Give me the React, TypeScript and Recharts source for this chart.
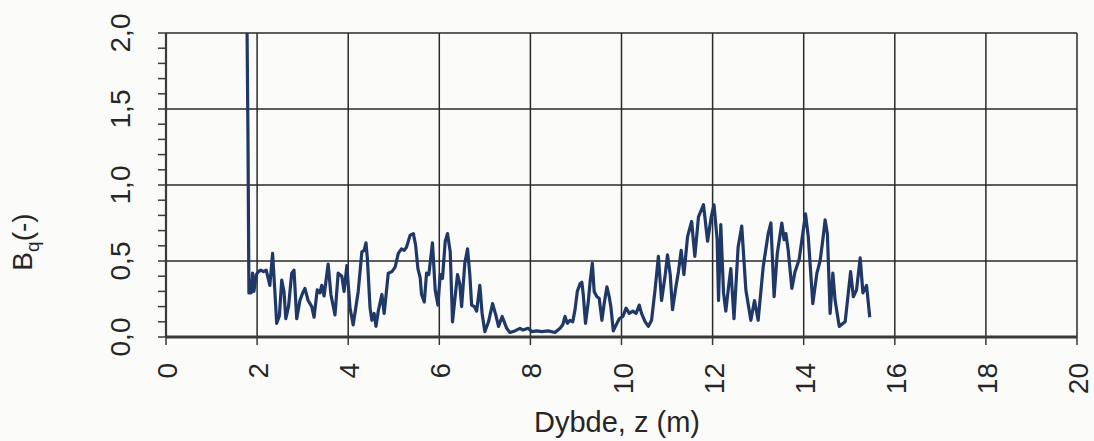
import { LineChart, Line, XAxis, YAxis, CartesianGrid, Label } from 'recharts';

// depth z (m) and Bq (-)
const depth = [
  1.78, 1.8, 1.82, 1.87, 1.9, 1.93, 1.98, 2.03, 2.08, 2.14, 2.2, 2.28, 2.34, 2.39, 2.43, 2.49,
  2.54, 2.59, 2.63, 2.69, 2.76, 2.81, 2.87, 2.94, 3.0, 3.05, 3.12, 3.2, 3.25, 3.32, 3.38, 3.42,
  3.47, 3.56, 3.62, 3.71, 3.78, 3.86, 3.91, 3.97, 4.04, 4.11, 4.22, 4.3, 4.35, 4.39, 4.42, 4.48,
  4.52, 4.57, 4.61, 4.66, 4.74, 4.79, 4.88, 4.96, 5.03, 5.1, 5.17, 5.23, 5.28, 5.36, 5.43, 5.48,
  5.53, 5.58, 5.61, 5.67, 5.72, 5.77, 5.85, 5.91, 5.97, 6.02, 6.07, 6.13, 6.18, 6.24, 6.29, 6.36,
  6.4, 6.45, 6.49, 6.56, 6.62, 6.67, 6.71, 6.77, 6.82, 6.89, 6.94, 7.0, 7.08, 7.17, 7.24, 7.3,
  7.38, 7.48, 7.55, 7.66, 7.77, 7.84, 7.95, 8.04, 8.14, 8.25, 8.39, 8.54, 8.65, 8.71, 8.76, 8.81,
  8.87, 8.93, 8.98, 9.03, 9.09, 9.13, 9.16, 9.21, 9.27, 9.31, 9.36, 9.4, 9.46, 9.51, 9.57, 9.62,
  9.68, 9.73, 9.77, 9.82, 9.9, 9.95, 10.03, 10.1, 10.17, 10.25, 10.32, 10.39, 10.44, 10.52, 10.59, 10.66,
  10.74, 10.81, 10.88, 10.96, 11.01, 11.07, 11.12, 11.2, 11.25, 11.31, 11.37, 11.45, 11.54, 11.61, 11.69, 11.8,
  11.89, 11.97, 12.03, 12.1, 12.13, 12.18, 12.24, 12.29, 12.35, 12.4, 12.47, 12.56, 12.64, 12.73, 12.84, 12.92,
  13.0, 13.11, 13.22, 13.28, 13.35, 13.42, 13.52, 13.57, 13.61, 13.66, 13.74, 13.81, 13.9, 14.04, 14.1, 14.2,
  14.29, 14.36, 14.42, 14.47, 14.52, 14.58, 14.64, 14.69, 14.78, 14.91, 15.03, 15.09, 15.16, 15.24, 15.3, 15.38,
  15.45,
];
const bq = [
  2.0, 1.3, 0.29, 0.29, 0.42, 0.3, 0.41, 0.43, 0.44, 0.43, 0.44, 0.34, 0.55, 0.3, 0.09, 0.14,
  0.375, 0.3, 0.12, 0.2, 0.42, 0.44, 0.12, 0.24, 0.29, 0.32, 0.24, 0.2, 0.13, 0.31, 0.29, 0.34,
  0.27, 0.48, 0.28, 0.145, 0.42, 0.4, 0.3, 0.47, 0.19, 0.08, 0.3, 0.56, 0.57, 0.62, 0.52, 0.19,
  0.11, 0.155, 0.07, 0.17, 0.28, 0.155, 0.42, 0.43, 0.46, 0.55, 0.58, 0.57, 0.59, 0.67, 0.68, 0.605,
  0.45, 0.39, 0.28, 0.23, 0.42, 0.41, 0.62, 0.31, 0.21, 0.41, 0.385, 0.63, 0.68, 0.56, 0.1, 0.3,
  0.41, 0.35, 0.2, 0.485, 0.58, 0.41, 0.21, 0.2, 0.17, 0.34, 0.155, 0.035, 0.1, 0.22, 0.145, 0.07,
  0.135, 0.057, 0.03, 0.04, 0.057, 0.046, 0.057, 0.035, 0.04, 0.035, 0.04, 0.03, 0.057, 0.08, 0.135, 0.09,
  0.11, 0.1, 0.18, 0.3, 0.35, 0.36, 0.28, 0.09, 0.23, 0.36, 0.485, 0.3, 0.265, 0.255, 0.11, 0.22,
  0.33, 0.265, 0.19, 0.04, 0.09, 0.12, 0.135, 0.19, 0.155, 0.17, 0.155, 0.21, 0.155, 0.1, 0.07, 0.11,
  0.32, 0.53, 0.24, 0.41, 0.54, 0.41, 0.18, 0.34, 0.43, 0.57, 0.41, 0.66, 0.76, 0.53, 0.79, 0.87,
  0.63, 0.79, 0.87, 0.64, 0.24, 0.74, 0.29, 0.17, 0.33, 0.45, 0.12, 0.59, 0.73, 0.31, 0.11, 0.24,
  0.11, 0.46, 0.68, 0.75, 0.265, 0.55, 0.75, 0.64, 0.68, 0.57, 0.32, 0.43, 0.51, 0.81, 0.66, 0.22,
  0.42, 0.5, 0.64, 0.77, 0.68, 0.155, 0.42, 0.24, 0.07, 0.1, 0.43, 0.265, 0.31, 0.52, 0.29, 0.34,
  0.13,
];

const xTicks = [0, 2, 4, 6, 8, 10, 12, 14, 16, 18, 20];
const yTicks = [
  0, 0.1, 0.2, 0.3, 0.4, 0.5, 0.6, 0.7, 0.8, 0.9, 1.0,
  1.1, 1.2, 1.3, 1.4, 1.5, 1.6, 1.7, 1.8, 1.9, 2.0,
];
const yMajor = [0, 0.5, 1.0, 1.5, 2.0];

const data = depth.map((z, i) => ({ z, bq: bq[i] }));

const FONT = '"Liberation Sans", Arial, Helvetica, sans-serif';
const TEXT = '#262626';

function YTick({ x, y, payload }: any) {
  const v = payload.value as number;
  if (!yMajor.some((m) => Math.abs(m - v) < 1e-6)) return <g />;
  return (
    <text
      transform={`translate(${x - 28},${y}) rotate(-90)`}
      textAnchor="middle"
      fontSize={28}
      fontFamily={FONT}
      fill={TEXT}
    >
      {v.toFixed(1).replace('.', ',')}
    </text>
  );
}

function XTick({ x, y, payload }: any) {
  return (
    <text
      transform={`translate(${x + 11},${y + 18}) rotate(-90)`}
      textAnchor="end"
      fontSize={28}
      fontFamily={FONT}
      fill={TEXT}
    >
      {payload.value}
    </text>
  );
}

export default function App() {
  return (
    <div style={{ position: 'absolute', left: 0, top: 0, width: 1094, height: 441, background: '#fbfbfa' }}>
      <LineChart
        width={1094}
        height={441}
        data={data}
        margin={{ top: 33, right: 17, bottom: 0, left: 0 }}
      >
        <CartesianGrid
          stroke="#2a2a2a"
          strokeWidth={1.5}
          horizontalValues={yMajor}
          verticalValues={xTicks}
        />
        <XAxis
          dataKey="z"
          type="number"
          domain={[0, 20]}
          ticks={xTicks}
          height={104}
          tickSize={8}
          tickMargin={0}
          tick={<XTick />}
          interval={0}
          axisLine={{ stroke: '#3a3a3a', strokeWidth: 3 }}
          tickLine={{ stroke: '#3a3a3a', strokeWidth: 1.5 }}
        >
          <Label
            content={() => (
              <text x={617} y={432} textAnchor="middle" fontSize={29} fontFamily={FONT} fill={TEXT}>
                Dybde, z (m)
              </text>
            )}
          />
        </XAxis>
        <YAxis
          type="number"
          domain={[0, 2]}
          ticks={yTicks}
          width={166}
          tickSize={8}
          tickMargin={0}
          tick={<YTick />}
          interval={0}
          axisLine={{ stroke: '#3a3a3a', strokeWidth: 2.2 }}
          tickLine={{ stroke: '#3a3a3a', strokeWidth: 1.5 }}
        >
          <Label
            content={() => (
              <text
                transform="translate(32,242) rotate(-90)"
                textAnchor="middle"
                fontSize={28}
                fontFamily={FONT}
                fill={TEXT}
              >
                B
                <tspan fontSize={19} dy={7}>q</tspan>
                <tspan dy={-7}>(-)</tspan>
              </text>
            )}
          />
        </YAxis>
        <Line
          type="linear"
          dataKey="bq"
          stroke="#1f3868"
          strokeWidth={3.2}
          strokeLinejoin="round"
          dot={false}
          isAnimationActive={false}
        />
      </LineChart>
    </div>
  );
}
